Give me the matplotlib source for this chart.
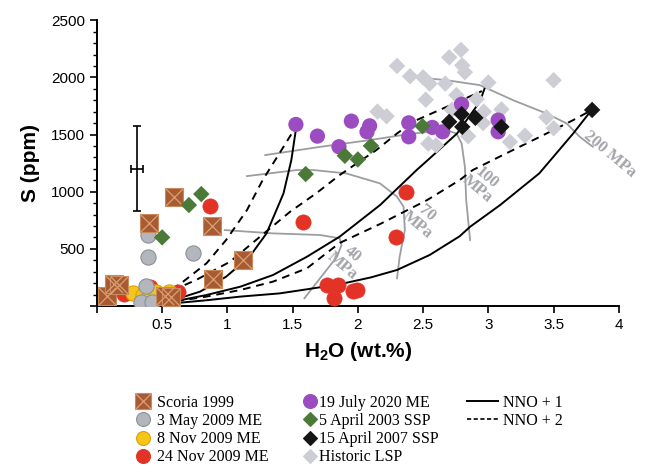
import matplotlib
matplotlib.use("Agg")
import matplotlib.pyplot as plt
from matplotlib.lines import Line2D

plt.rcParams['font.family'] = 'Liberation Sans'
plt.rcParams['mathtext.fontset'] = 'custom'
plt.rcParams['mathtext.rm'] = 'Liberation Sans'
plt.rcParams['mathtext.bf'] = 'Liberation Sans:bold'

# ---- sample data (H2O wt.%, S ppm) ----
scoria_x = [0.08, 0.13, 0.17, 0.40, 0.52, 0.57, 0.59, 0.88, 0.89, 1.12]
scoria_y = [85, 195, 185, 730, 90, 80, 950, 700, 232, 400]

may09_x = [0.39, 0.39, 0.74, 0.38, 0.34, 0.42]
may09_y = [620, 431, 466, 178, 38, 38]

nov8_x = [0.28, 0.35, 0.40, 0.45, 0.55]
nov8_y = [115, 100, 80, 120, 125]

nov24_x = [0.87, 0.21, 0.41, 0.62, 1.58, 2.37, 2.29, 1.76, 1.85, 1.96, 1.99, 1.82]
nov24_y = [877, 105, 165, 118, 737, 999, 606, 184, 184, 131, 140, 67]

jul20_x = [1.525, 1.69, 1.95, 2.09, 2.07, 1.855, 2.39, 2.39, 2.795, 2.57, 2.65, 3.075, 3.075]
jul20_y = [1588, 1486, 1617, 1576, 1524, 1393, 1602, 1480, 1765, 1562, 1524, 1626, 1524]

apr03_x = [0.80, 0.705, 0.50, 1.60, 1.90, 2.00, 2.10, 2.495]
apr03_y = [979, 883, 600, 1154, 1314, 1282, 1401, 1573]

apr07_x = [2.70, 2.795, 2.80, 2.90, 3.10, 3.795]
apr07_y = [1611, 1678, 1567, 1646, 1567, 1715]

lsp_x = [2.15, 2.22, 2.30, 2.40, 2.50, 2.55, 2.52, 2.54, 2.60, 2.67, 2.70, 2.72, 2.755,
         2.79, 2.80, 2.82, 2.845, 2.91, 2.96, 2.965, 3.00, 3.10, 3.165, 3.28, 3.445, 3.50, 3.50]
lsp_y = [1700, 1660, 2100, 2010, 2000, 1945, 1805, 1420, 1405, 1945, 2175, 1715, 1845,
         2240, 2105, 2045, 1485, 1810, 1600, 1700, 1955, 1720, 1435, 1490, 1650, 1555, 1975]

# ---- degassing models ----
nno1_a_x = [0.40, 0.46, 0.585, 0.79, 0.99, 1.17, 1.30, 1.43, 1.49, 1.51, 1.53]
nno1_a_y = [5, 24, 52, 125, 256, 431, 635, 985, 1276, 1430, 1580]
nno2_a_x = [0.40, 0.53, 0.66, 0.84, 0.99, 1.15, 1.27, 1.43, 1.51]
nno2_a_y = [10, 111, 212, 373, 577, 839, 1101, 1392, 1540]

nno1_b_x = [0.40, 0.585, 0.84, 1.10, 1.35, 1.61, 1.86, 2.17, 2.45, 2.55, 2.76, 2.935, 2.97]
nno1_b_y = [5, 38, 96, 169, 271, 431, 606, 883, 1189, 1291, 1509, 1788, 1900]
nno2_b_x = [0.40, 0.585, 0.76, 1.02, 1.25, 1.48, 1.68, 1.86, 2.14, 2.30, 2.42, 2.68, 2.95]
nno2_b_y = [10, 140, 227, 387, 606, 824, 985, 1145, 1363, 1509, 1611, 1742, 1880]

nno1_c_x = [0.40, 0.585, 0.84, 1.10, 1.40, 1.61, 1.86, 2.10, 2.30, 2.55, 2.78, 2.86, 3.09, 3.39, 3.65, 3.79]
nno1_c_y = [3, 23, 50, 82, 110, 146, 190, 250, 315, 446, 610, 693, 883, 1160, 1509, 1713]
nno2_c_x = [0.40, 0.585, 0.84, 1.10, 1.35, 1.61, 1.86, 2.17, 2.53, 2.78, 2.88, 3.14, 3.39, 3.65, 3.79]
nno2_c_y = [5, 38, 82, 140, 213, 330, 551, 717, 926, 1101, 1189, 1337, 1477, 1626, 1713]

# ---- isobars ----
iso40_x = [0.98, 1.35, 1.71, 1.86, 1.875, 1.84, 1.76, 1.67, 1.59]
iso40_y = [664, 635, 621, 592, 533, 431, 315, 184, 67]
iso70_x = [1.15, 1.53, 1.66, 1.91, 2.17, 2.30, 2.35, 2.36, 2.32, 2.30]
iso70_y = [1136, 1189, 1189, 1160, 1072, 956, 868, 664, 431, 242]
iso100_x = [1.29, 1.71, 2.09, 2.42, 2.68, 2.755, 2.795, 2.82, 2.83, 2.86]
iso100_y = [1320, 1392, 1451, 1509, 1538, 1509, 1422, 1218, 926, 577]
iso200_x = [2.50, 2.68, 2.935, 3.19, 3.445, 3.60, 3.70, 3.80]
iso200_y = [1996, 1975, 1932, 1800, 1684, 1597, 1480, 1393]

iso_labels = ['40\nMPa', '70\nMPa', '100\nMPa', '200 MPa']
iso_label_x = [1.92, 2.49, 2.95, 3.93]
iso_label_y = [400, 760, 1070, 1330]

fig = plt.figure(figsize=(6.46, 4.70), dpi=100)
ax = fig.add_axes([0.150, 0.349, 0.808, 0.608])

# isobars
gcol = '#9b9da1'
for xs, ys in [(iso40_x, iso40_y), (iso70_x, iso70_y), (iso100_x, iso100_y), (iso200_x, iso200_y)]:
    ax.plot(xs, ys, color=gcol, lw=1.3, zorder=1)
for lab, lx, ly in zip(iso_labels, iso_label_x, iso_label_y):
    ax.text(lx, ly, lab, family='Liberation Serif', fontweight='bold', fontsize=12,
            color='#a3a5aa', rotation=-40, ha='center', va='center',
            multialignment='center', linespacing=0.9, clip_on=False, zorder=2)

# model curves
for xs, ys in [(nno1_a_x, nno1_a_y), (nno1_b_x, nno1_b_y), (nno1_c_x, nno1_c_y)]:
    ax.plot(xs, ys, color='black', lw=1.4, zorder=2)
for xs, ys in [(nno2_a_x, nno2_a_y), (nno2_b_x, nno2_b_y), (nno2_c_x, nno2_c_y)]:
    ax.plot(xs, ys, color='black', lw=1.4, ls=(0, (4, 3)), zorder=2)

# samples
ax.scatter(lsp_x, lsp_y, marker='D', s=70, color='#cdcdd5', edgecolors='none', zorder=3)
ax.scatter(nov24_x, nov24_y, marker='o', s=120, color='#e33326', edgecolors='#e33326', lw=0.5, zorder=4)
ax.scatter(nov8_x, nov8_y, marker='o', s=120, color='#f6c51b', edgecolors='#dba300', lw=0.8, zorder=5)
ax.scatter(may09_x, may09_y, marker='o', s=120, color='#b3b6bd', edgecolors='#8d9097', lw=0.8, zorder=6)
ax.scatter(scoria_x, scoria_y, marker='s', s=150, color='#a85b32', edgecolors='#c98a5c', lw=0.8, zorder=7)
ax.scatter(scoria_x, scoria_y, marker='x', s=150, color='#d9a173', lw=0.9, zorder=8)
ax.scatter(jul20_x, jul20_y, marker='o', s=120, color='#9a4cc0', edgecolors='none', zorder=9)
ax.scatter(apr03_x, apr03_y, marker='D', s=70, color='#4b7a38', edgecolors='none', zorder=10)
ax.scatter(apr07_x, apr07_y, marker='D', s=70, color='#151515', edgecolors='none', zorder=11)

# analytical uncertainty
ax.errorbar(0.305, 1202, yerr=372, xerr=0.045, color='black', lw=1.2, capsize=3, capthick=1.2, zorder=5)

ax.set_xlim(0, 4)
ax.set_ylim(0, 2500)
ax.set_xticks([0, 0.5, 1, 1.5, 2, 2.5, 3, 3.5, 4])
ax.set_xticklabels(['', '0.5', '1', '1.5', '2', '2.5', '3', '3.5', '4'])
ax.set_yticks([0, 500, 1000, 1500, 2000, 2500])
ax.set_yticklabels(['', '500', '1000', '1500', '2000', '2500'])
ax.set_yticks(range(0, 2501, 100), minor=True)
ax.tick_params(axis='both', which='major', labelsize=11, length=5, width=1.2, direction='out')
ax.tick_params(axis='y', which='minor', length=3, width=1.0)
for side in ['top', 'right']:
    ax.spines[side].set_visible(False)
for side in ['left', 'bottom']:
    ax.spines[side].set_linewidth(1.4)

ax.set_xlabel(r'H$\mathbf{_2}$O (wt.%)', fontsize=15, fontweight='bold', labelpad=6)
ax.set_ylabel('S (ppm)', fontsize=15, fontweight='bold', labelpad=8)

# legends (three columns)
def mk(marker, fc, ec, ms):
    return Line2D([], [], ls='none', marker=marker, markersize=ms, markerfacecolor=fc,
                  markeredgecolor=ec, markeredgewidth=0.8)

scoria_h = (mk('s', '#a85b32', '#c98a5c', 11),
            Line2D([], [], ls='none', marker='x', markersize=11, color='#d9a173', markeredgewidth=0.9))
col1 = [scoria_h, mk('o', '#b3b6bd', '#8d9097', 10), mk('o', '#f6c51b', '#dba300', 10),
        mk('o', '#e33326', '#e33326', 10)]
col1_lab = ['Scoria 1999', '3 May 2009 ME', '8 Nov 2009 ME', '24 Nov 2009 ME']
col2 = [mk('o', '#9a4cc0', '#9a4cc0', 10), mk('D', '#4b7a38', '#4b7a38', 7.5),
        mk('D', '#151515', '#151515', 7.5), mk('D', '#cdcdd5', '#cdcdd5', 7.5)]
col2_lab = ['19 July 2020 ME', '5 April 2003 SSP', '15 April 2007 SSP', 'Historic LSP']
col3 = [Line2D([], [], color='black', lw=1.4), Line2D([], [], color='black', lw=1.2, ls=(0, (2.5, 1.5)))]
col3_lab = ['NNO + 1', 'NNO + 2']

leg_kw = dict(frameon=False, borderpad=0, borderaxespad=0, labelspacing=0.13,
              prop={'family': 'Liberation Serif', 'size': 11.5}, loc='upper left')
fig.legend(col1, col1_lab, bbox_to_anchor=(133 / 646, 1 - 395 / 470), handlelength=1.2,
           handletextpad=0.3, **leg_kw)
fig.legend(col2, col2_lab, bbox_to_anchor=(300 / 646, 1 - 395 / 470), handlelength=1.2,
           handletextpad=0.0, **leg_kw)
fig.legend(col3, col3_lab, bbox_to_anchor=(467 / 646, 1 - 395 / 470), handlelength=1.95,
           handletextpad=0.3, **leg_kw)

fig.savefig('out.png', dpi=100)
